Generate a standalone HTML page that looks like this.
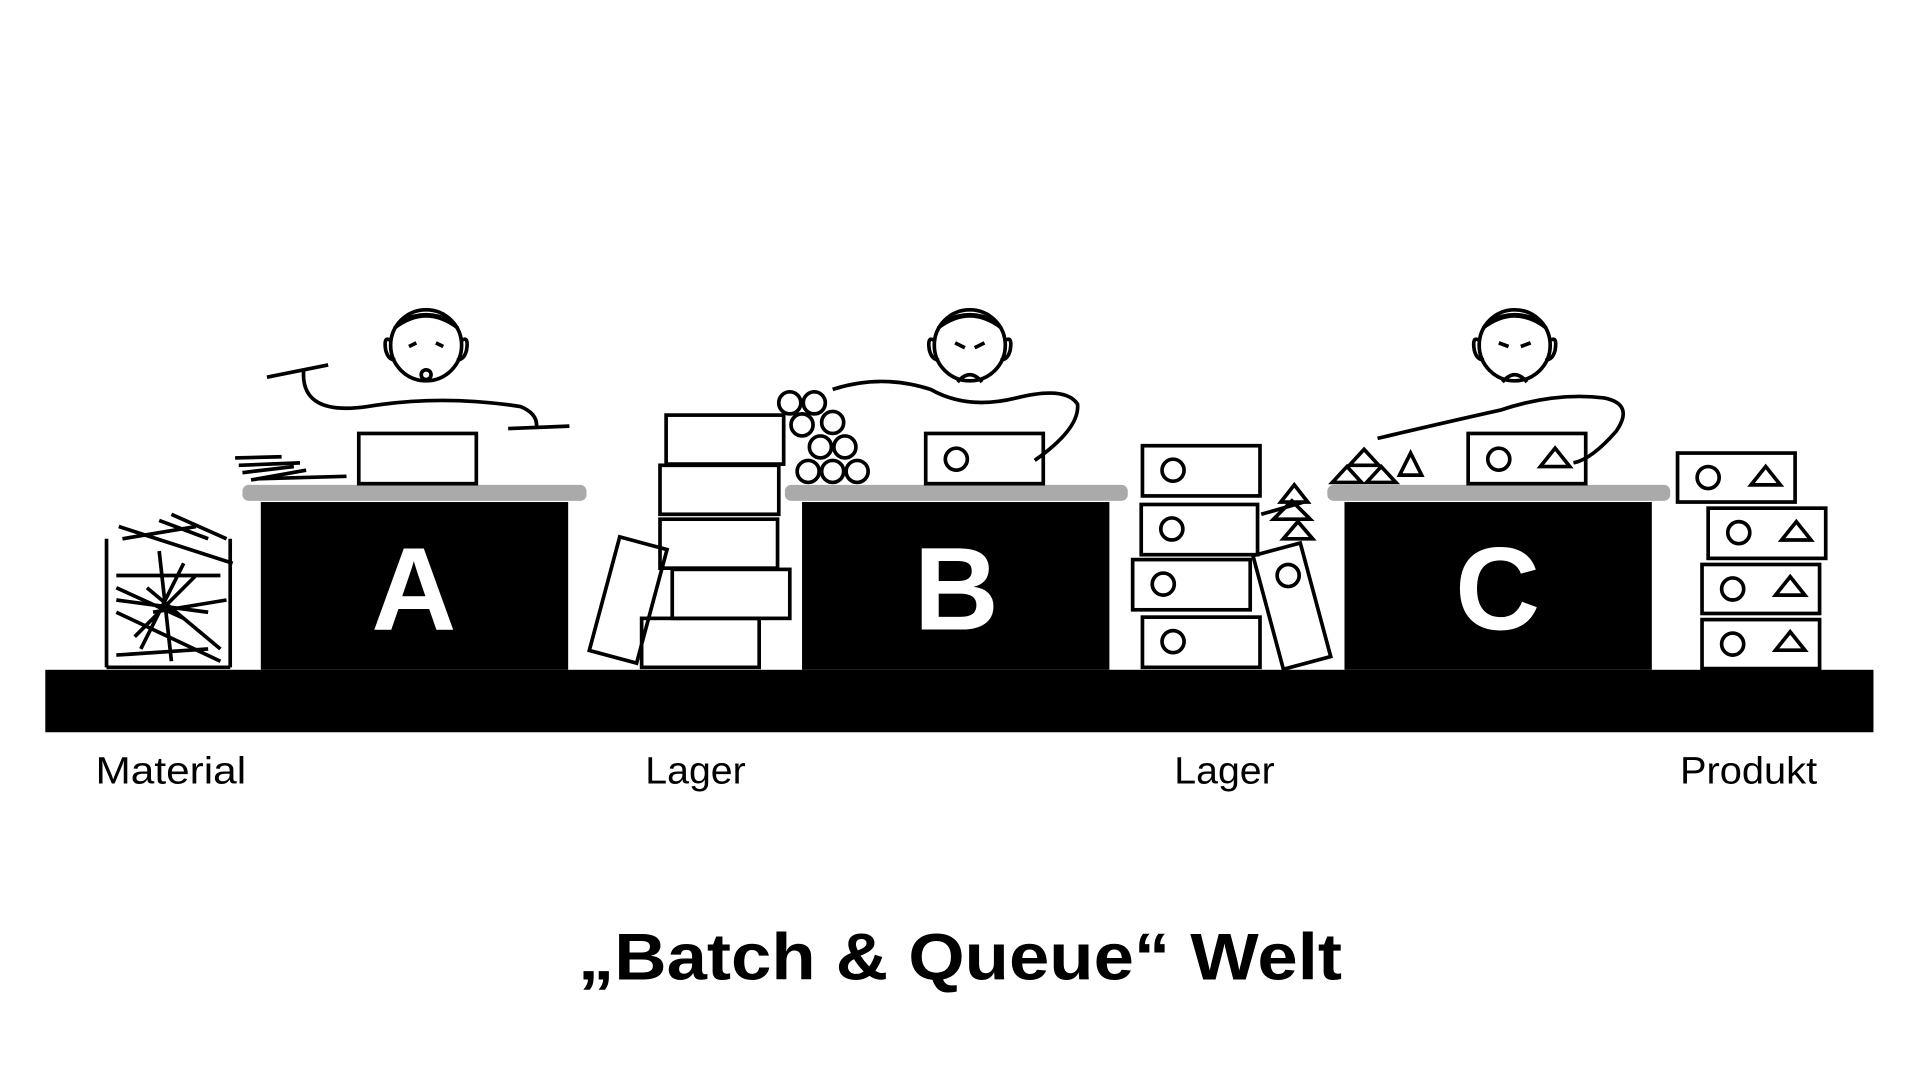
<!DOCTYPE html>
<html><head><meta charset="utf-8"><style>
html,body{margin:0;padding:0;background:#fff;}
svg{display:block}
</style></head><body>
<svg width="1920" height="1080" viewBox="0 0 1568 882" xmlns="http://www.w3.org/2000/svg">
<rect width="1568" height="882" fill="#fff"/>
<rect x="37" y="547" width="1493" height="51" fill="#000"/>
<g>
<rect x="198" y="396" width="281" height="13" rx="5" fill="#aaa"/>
<rect x="213" y="410" width="251" height="137" fill="#000"/>
<rect x="641" y="396" width="280" height="13" rx="5" fill="#aaa"/>
<rect x="655" y="410" width="251" height="137" fill="#000"/>
<rect x="1084" y="396" width="280" height="13" rx="5" fill="#aaa"/>
<rect x="1098" y="410" width="251" height="137" fill="#000"/>
</g>
<g font-family="Liberation Sans, sans-serif" font-weight="bold" font-size="96" fill="#fff" text-anchor="middle">
<text x="338" y="514">A</text><text x="781" y="514">B</text><text x="1223" y="514">C</text>
</g>
<g fill="none" stroke="#000" stroke-width="3">
<rect x="293" y="354" width="96" height="41"/>
<rect x="756" y="354" width="96" height="41"/><circle cx="781" cy="375" r="9"/>
<rect x="1199" y="354" width="96" height="41"/><circle cx="1224" cy="375" r="9"/><path d="M1258 381 L1270 366 L1282 381 Z"/>
<circle cx="348" cy="282" r="29"/><circle cx="792" cy="282" r="29"/><circle cx="1237" cy="282" r="29"/>
<path d="M319 278 q-6 -4 -4 8 q2 8 8 8 M377 278 q6 -4 4 8 q-2 8 -8 8 M763 278 q-6 -4 -4 8 q2 8 8 8 M821 278 q6 -4 4 8 q-2 8 -8 8 M1208 278 q-6 -4 -4 8 q2 8 8 8 M1266 278 q6 -4 4 8 q-2 8 -8 8"/>
<path d="M322 268 Q348 248 374 268 M328 262 Q348 252 368 262 M766 268 Q792 248 818 268 M772 262 Q792 252 812 262 M1211 268 Q1237 248 1263 268 M1217 262 Q1237 252 1257 262"/>
<circle cx="348" cy="306" r="4"/>
<path d="M782 312 Q792 300 802 312 M1227 312 Q1237 300 1247 312"/>
<path d="M334 283 l6 -3 M356 280 l6 3 M780 280 l8 4 M796 284 l8 -4 M1224 280 l8 3 M1242 283 l8 -3"/>
<path d="M218 308 L268 298 M248 302 Q245 340 300 332 Q360 322 425 332 Q440 338 438 350 M415 350 L465 348"/>
<path d="M680 318 Q720 305 760 318 Q790 335 830 325 Q870 315 880 330 Q882 350 845 376"/>
<path d="M1125 358 Q1180 345 1225 335 Q1270 320 1310 325 Q1335 330 1320 352 Q1300 375 1285 378"/>
<path d="M192 374 L230 373 M195 380 L245 378 M198 386 L240 381 M205 392 L250 384 M210 391 L283 389"/>
<path d="M87 545 V440 M188 545 V440 M87 545 H188 M97 430 L190 460 M100 440 L160 430 M130 425 L170 440 M95 470 L180 470 M95 480 L150 505 M95 490 L170 500 M120 480 L180 530 M110 520 L160 470 M95 500 L180 540 M150 460 L115 530 M130 450 L140 540 M140 420 L185 440 M95 535 L170 530 M125 500 L185 490"/>
<rect x="544" y="339" width="96" height="40"/>
<rect x="539" y="380" width="97" height="40"/>
<rect x="539" y="424" width="96" height="40"/>
<rect x="549" y="465" width="96" height="40"/>
<rect x="524" y="505" width="96" height="40"/>
<rect x="493" y="442" width="40" height="96" transform="rotate(15 513 490)"/>
<circle cx="645" cy="329" r="9"/><circle cx="665" cy="329" r="9"/>
<circle cx="655" cy="347" r="9"/><circle cx="680" cy="345" r="9"/>
<circle cx="670" cy="365" r="9"/><circle cx="690" cy="365" r="9"/>
<circle cx="660" cy="385" r="9"/><circle cx="680" cy="385" r="9"/><circle cx="700" cy="385" r="9"/>
<rect x="933" y="364" width="96" height="41"/><circle cx="958" cy="384" r="9"/>
<rect x="932" y="412" width="95" height="41"/><circle cx="957" cy="432" r="9"/>
<rect x="925" y="457" width="96" height="41"/><circle cx="950" cy="477" r="9"/>
<rect x="933" y="504" width="96" height="41"/><circle cx="958" cy="524" r="9"/>
<rect x="1035" y="447" width="40" height="96" transform="rotate(-15 1055 495)"/><circle cx="1052" cy="470" r="9"/>
<path d="M1040 424 L1055 409 L1070 424 Z M1046 410 L1057 396 L1068 410 Z M1048 440 L1060 426 L1072 440 Z M1030 420 L1065 410"/>
<path d="M1088 394 L1100 381 L1112 394 Z M1116 394 L1128 381 L1140 394 Z M1102 380 L1114 367 L1126 380 Z M1143 388 L1152 370 L1161 388 Z"/>
<rect x="1370" y="370" width="96" height="40"/><circle cx="1395" cy="390" r="9"/><path d="M1430 396 L1442 381 L1454 396 Z"/>
<rect x="1395" y="415" width="96" height="41"/><circle cx="1420" cy="435" r="9"/><path d="M1455 441 L1467 426 L1479 441 Z"/>
<rect x="1390" y="461" width="96" height="40"/><circle cx="1415" cy="481" r="9"/><path d="M1450 486 L1462 471 L1474 486 Z"/>
<rect x="1390" y="506" width="96" height="40"/><circle cx="1415" cy="526" r="9"/><path d="M1450 531 L1462 516 L1474 531 Z"/>
</g>
<g font-family="Liberation Sans, sans-serif" font-size="31" fill="#000">
<text x="78" y="640" textLength="123" lengthAdjust="spacingAndGlyphs">Material</text>
<text x="527" y="640" textLength="82" lengthAdjust="spacingAndGlyphs">Lager</text>
<text x="959" y="640" textLength="82" lengthAdjust="spacingAndGlyphs">Lager</text>
<text x="1372" y="640" textLength="112" lengthAdjust="spacingAndGlyphs">Produkt</text>
</g>
<text x="472" y="800" font-family="Liberation Sans, sans-serif" font-weight="bold" font-size="54" textLength="624" lengthAdjust="spacingAndGlyphs">„Batch &amp; Queue“ Welt</text>
</svg>
</body></html>
